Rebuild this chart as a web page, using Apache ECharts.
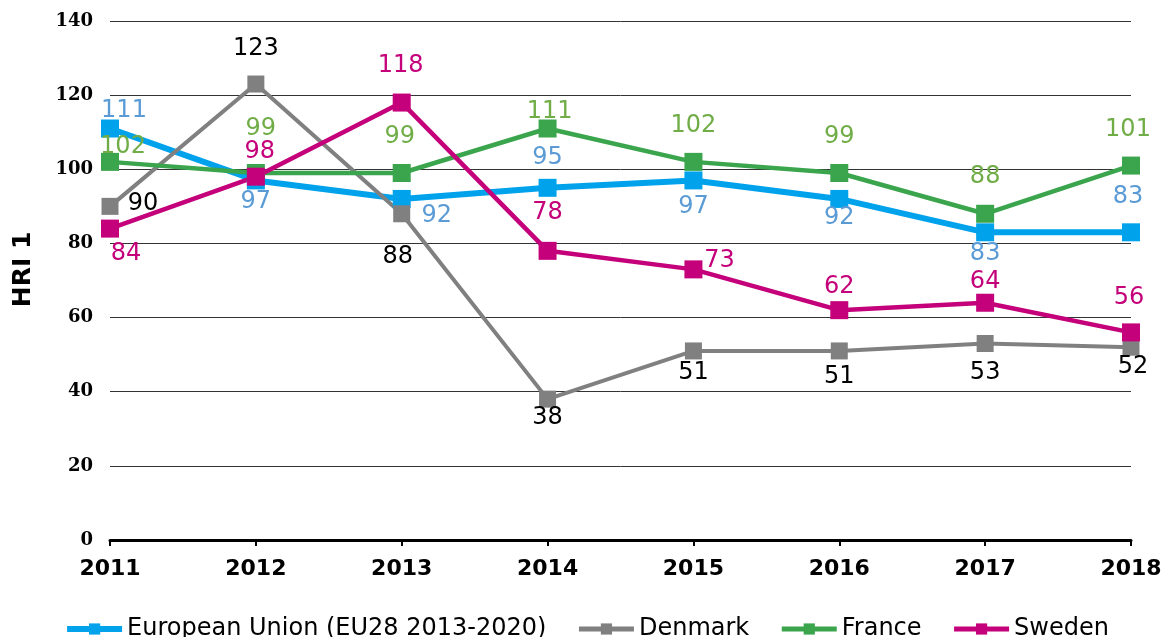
<!DOCTYPE html>
<html>
<head>
<meta charset="utf-8">
<script src="https://cdn.jsdelivr.net/npm/echarts@6/dist/echarts.min.js"></script>
<style>
html,body{margin:0;padding:0;background:#fff;}
#chart{width:1173px;height:637px;}
</style>
</head>
<body>
<div id="chart"></div>
<script>
const years = ['2011','2012','2013','2014','2015','2016','2017','2018'];
const seriesNames = ['European Union (EU28 2013-2020)','Denmark','France','Sweden'];
const euValues = [111, 97, 92, 95, 97, 92, 83, 83];
const denmarkValues = [90, 123, 88, 38, 51, 51, 53, 52];
const franceValues = [102, 99, 99, 111, 102, 99, 88, 101];
const swedenValues = [84, 98, 118, 78, 73, 62, 64, 56];
const yTicks = {min: 0, max: 140, interval: 20};

// label placement (px offsets from each point)
const euLabelOffset = [[14,-18],[0,21],[35,17],[0,-30],[0,26],[0,19],[0,21],[-3,-36]];
const dkLabelOffset = [[33,-3],[0,-35],[-4,43],[0,19],[0,22],[0,26],[0,29],[2,20]];
const frLabelOffset = [[13,-15],[5,-44],[-2,-36],[2,-17],[0,-36],[0,-36],[0,-37],[-3,-36]];
const seLabelOffset = [[16,25],[4,-25],[-1,-37],[0,-38],[26,-9],[0,-23],[0,-21],[-2,-35]];

const FONT = 'DejaVu Sans, Verdana, sans-serif';
const SERIF = 'DejaVu Serif, serif';

function makeSeries(name, values, offsets, color, labelColor, width, size) {
  return {
    name: name,
    type: 'line',
    data: values.map((v, i) => ({
      value: v,
      label: {offset: offsets[i]}
    })),
    symbol: 'rect',
    symbolSize: size,
    lineStyle: {color: color, width: width},
    itemStyle: {color: color},
    label: {
      show: true,
      position: 'inside',
      color: labelColor,
      fontFamily: FONT,
      fontSize: 24,
      align: 'center',
      verticalAlign: 'middle'
    },
    emphasis: {disabled: true},
    animation: false
  };
}

const chart = echarts.init(document.getElementById('chart'));
chart.setOption({
  backgroundColor: '#fff',
  animation: false,
  grid: {left: 110, right: 42, top: 21, bottom: 97, containLabel: false},
  legend: {
    top: 612,
    left: 'center',
    itemWidth: 55,
    itemHeight: 14,
    itemGap: 30,
    textStyle: {fontFamily: FONT, fontSize: 24, color: '#000'},
    data: [
      {name: seriesNames[0], lineStyle: {width: 6}},
      {name: seriesNames[1], lineStyle: {width: 5}},
      {name: seriesNames[2], lineStyle: {width: 5}},
      {name: seriesNames[3], lineStyle: {width: 5}}
    ]
  },
  xAxis: {
    type: 'category',
    data: years,
    boundaryGap: false,
    axisLine: {lineStyle: {color: '#000', width: 3}},
    axisTick: {show: true, length: 6, lineStyle: {color: '#000', width: 2}},
    axisLabel: {fontFamily: FONT, fontWeight: 'bold', fontSize: 22, color: '#000', margin: 18},
    splitLine: {show: false}
  },
  yAxis: {
    type: 'value',
    min: yTicks.min,
    max: yTicks.max,
    interval: yTicks.interval,
    name: 'HRI 1',
    nameLocation: 'middle',
    nameGap: 74,
    nameTextStyle: {fontFamily: FONT, fontWeight: 'bold', fontSize: 25, color: '#000', padding: [0,0,0,22]},
    axisLine: {show: false},
    axisTick: {show: false},
    axisLabel: {fontFamily: SERIF, fontWeight: 'bold', fontSize: 18, color: '#000', margin: 17},
    splitLine: {lineStyle: {color: '#333', width: 1}}
  },
  series: [
    makeSeries(seriesNames[0], euValues, euLabelOffset, '#00A2EC', '#5B9BD5', 6, 18),
    makeSeries(seriesNames[1], denmarkValues, dkLabelOffset, '#808080', '#000000', 4, 17),
    makeSeries(seriesNames[2], franceValues, frLabelOffset, '#3AA54C', '#70AD47', 4.5, 18),
    makeSeries(seriesNames[3], swedenValues, seLabelOffset, '#C4007A', '#C4007A', 4.5, 18)
  ]
});
</script>
</body>
</html>
